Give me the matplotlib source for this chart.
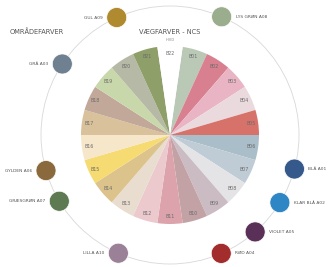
import matplotlib.pyplot as plt
import numpy as np

# Wall colours (NCS) - 22 equal slices, clockwise from top
wall_labels = ['B01', 'B02', 'B03', 'B04', 'B05', 'B06', 'B07', 'B08', 'B09', 'B10', 'B11',
               'B12', 'B13', 'B14', 'B15', 'B16', 'B17', 'B18', 'B19', 'B20', 'B21', 'B22']
wall_colors = ['#b9c9b6', '#d8808f', '#e9b5c5', '#eadadd', '#d6726a', '#a9bec8', '#bfccd5',
               '#e4e4e6', '#cbbcc4', '#c3a2a6', '#dca3ac', '#ebc9cd', '#e9ddd0', '#dcc38b',
               '#f6da72', '#f6e7ca', '#d9c19b', '#c1a898', '#c9d8aa', '#b6b9a5', '#8f9f69',
               '#ffffff']

# Area colours placed on the outer ring (angle in degrees)
area_labels = ['BLÅ A01', 'KLAR BLÅ A02', 'GRÅ A03', 'RØD A04', 'VIOLET A05',
               'GYLDEN A06', 'GRÆSGRØN A07', 'LYS GRØN A08', 'GUL A09', 'LILLA A10']
area_colors = ['#34598a', '#2f86c4', '#6f8190', '#a32c2c', '#5a3058',
               '#8a6a3c', '#5e7a53', '#9aae8e', '#b08a2e', '#9a8197']
area_angles = [344.7, 328.4, 146.6, 293.4, 311.3, 196.0, 210.9, 66.4, 114.4, 246.4]

fig = plt.figure(figsize=(3.28, 2.67), dpi=100)
ax = fig.add_axes([0, 0, 1, 1])
ax.set_xlim(0, 328)
ax.set_ylim(0, 267)
ax.axis('off')

cx, cy = 170, 132
R = 89
ring_r = 129

# outer ring
ax.add_patch(plt.Circle((cx, cy), ring_r, fill=False, ec='#d8d8d8', lw=0.6, zorder=1))

sizes = np.ones(len(wall_labels))
wedges, _ = ax.pie(sizes, colors=wall_colors, startangle=360 / 22 * 5, counterclock=False,
                   center=(cx, cy), radius=R, frame=True,
                   wedgeprops=dict(linewidth=0, zorder=2))
ax.set_xlim(0, 328)
ax.set_ylim(0, 267)
ax.axis('off')

for w, lab in zip(wedges, wall_labels):
    mid = np.deg2rad((w.theta1 + w.theta2) / 2)
    ax.text(cx + 0.92 * R * np.cos(mid), cy + 0.92 * R * np.sin(mid), lab,
            ha='center', va='center', fontsize=3.4, color='#6b6b6b', zorder=3)

ax.text(cx, cy + R + 6, 'HVID', ha='center', va='center', fontsize=2.6, color='#888888')

for lab, col, ang in zip(area_labels, area_colors, area_angles):
    a = np.deg2rad(ang)
    x, y = cx + ring_r * np.cos(a), cy + ring_r * np.sin(a)
    ax.add_patch(plt.Circle((x, y), 10, color=col, ec='white', lw=0.5, zorder=4))
    if np.cos(a) < 0:
        ax.text(x - 14, y, lab, ha='right', va='center', fontsize=3.2, color='#555555')
    else:
        ax.text(x + 14, y, lab, ha='left', va='center', fontsize=3.2, color='#555555')

ax.text(10, 235, 'OMRÅDEFARVER', ha='left', va='center', fontsize=4.8, color='#555555')
ax.text(cx, 235, 'VÆGFARVER - NCS', ha='center', va='center', fontsize=4.8, color='#555555')

fig.savefig('out.png', dpi=100)
